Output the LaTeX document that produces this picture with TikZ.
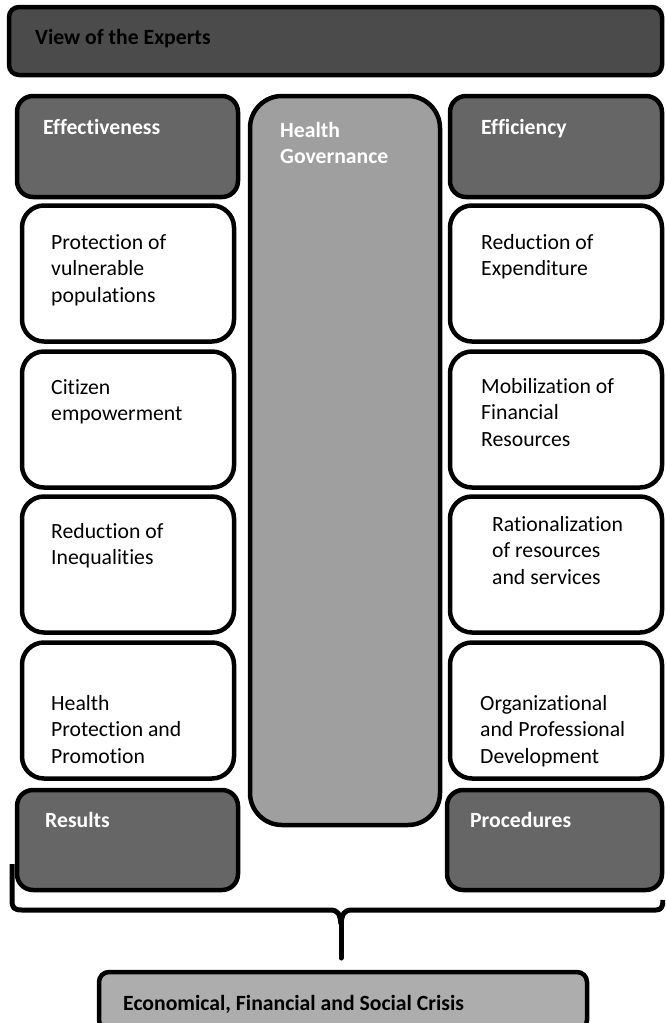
\documentclass[tikz,border=0pt]{standalone}
\usepackage{fontspec}
\setmainfont[Ligatures=NoCommon]{Carlito}
\begin{document}
\begin{tikzpicture}[x=1pt,y=-1pt,
  frame/.style={draw=black,line width=4.5pt,rounded corners=#1,inner sep=0pt},
  frame/.default=16pt,
  topbox/.style={frame=10pt,fill=topgray},
  darkbox/.style={frame=16pt,fill=darkgray6},
  midbox/.style={frame=32pt,fill=midgray},
  whitebox/.style={frame=22pt,fill=white},
  crisisbox/.style={frame=10pt,fill=lightgray6},
  lbl/.style={anchor=base west,inner sep=0pt,align=left,font=\fontsize{21.7}{26.5}\selectfont},
  blbl/.style={lbl,font=\fontsize{21.7}{26.5}\selectfont\bfseries},
  brace/.style={line width=5pt,line join=round}
]
\definecolor{topgray}{HTML}{4B4B4B}
\definecolor{darkgray6}{HTML}{666666}
\definecolor{midgray}{HTML}{9F9F9F}
\definecolor{lightgray6}{HTML}{ADADAD}
\useasboundingbox (0,0) rectangle (665,1023);
\clip (0,0) rectangle (665,1023);

% boxes
\node[topbox,minimum width=653pt,minimum height=68pt] (top) at (335.5,41) {};
\node[darkbox,minimum width=221pt,minimum height=101pt] (eff) at (127.5,146.5) {};
\node[midbox,minimum width=190pt,minimum height=729pt] (gov) at (345,460.5) {};
\node[darkbox,minimum width=212pt,minimum height=101pt] (effi) at (556,146.5) {};

\node[whitebox,minimum width=212pt,minimum height=136pt] (l1) at (128,273.5) {};
\node[whitebox,minimum width=212pt,minimum height=136pt] (l2) at (128,419.5) {};
\node[whitebox,minimum width=212pt,minimum height=136pt] (l3) at (128,564.5) {};
\node[whitebox,minimum width=212pt,minimum height=136pt] (l4) at (128,710.5) {};
\node[whitebox,minimum width=212pt,minimum height=136pt] (r1) at (556,273.5) {};
\node[whitebox,minimum width=212pt,minimum height=136pt] (r2) at (556,419.5) {};
\node[whitebox,minimum width=212pt,minimum height=136pt] (r3) at (556,564.5) {};
\node[whitebox,minimum width=212pt,minimum height=136pt] (r4) at (556,710.5) {};

\node[darkbox,minimum width=221pt,minimum height=100pt] (res) at (127.5,840) {};
\node[darkbox,minimum width=215pt,minimum height=100pt] (proc) at (554.5,840) {};

\node[crisisbox,minimum width=488pt,minimum height=58pt] (crisis) at (343,1001) {};

% labels (base = baseline of the last line)
\node[blbl,text=black] (ttop) at (35,44) {View of the Experts};
\node[blbl,text=white] (teff) at (43,134) {Effectiveness};
\node[blbl,text=white] (tgov) at (280,163.5) {Health\\Governance};
\node[blbl,text=white] (teffi) at (481,134) {Efficiency};

\node[lbl] (tl1) at (51,302) {Protection of\\vulnerable\\populations};
\node[lbl] (tl2) at (51,420.5) {Citizen\\empowerment};
\node[lbl] (tl3) at (51,564.5) {Reduction of\\Inequalities};
\node[lbl] (tl4) at (51,763) {Health\\Protection and\\Promotion};
\node[lbl] (tr1) at (481,275.5) {Reduction of\\Expenditure};
\node[lbl] (tr2) at (481,446) {Mobilization of\\Financial\\Resources};
\node[lbl] (tr3) at (492,584) {Rationalization\\of resources\\and services};
\node[lbl] (tr4) at (480,763) {Organizational\\and Professional\\Development};

\node[blbl,text=white] (tres) at (45,827) {Results};
\node[blbl,text=white] (tproc) at (470,827) {Procedures};

\node[blbl,text=black] (tcrisis) at (123,1010) {Economical, Financial and Social Crisis};

% brace
\coordinate (bl) at (12,864);
\coordinate (tip) at (341,958);
\coordinate (br) at (663,900);
\draw[brace] (bl) -- (12,900) .. controls (12,908) and (14,910) .. (22,910)
  -- (330,910) .. controls (338,910) and (340,914) .. (341,924);
\draw[brace,line cap=round] (341,922) -- (tip);
\draw[brace] (341,924) .. controls (342,914) and (344,910) .. (352,910)
  -- (656,910) .. controls (661,910) and (663,907) .. (br);
\end{tikzpicture}
\end{document}
